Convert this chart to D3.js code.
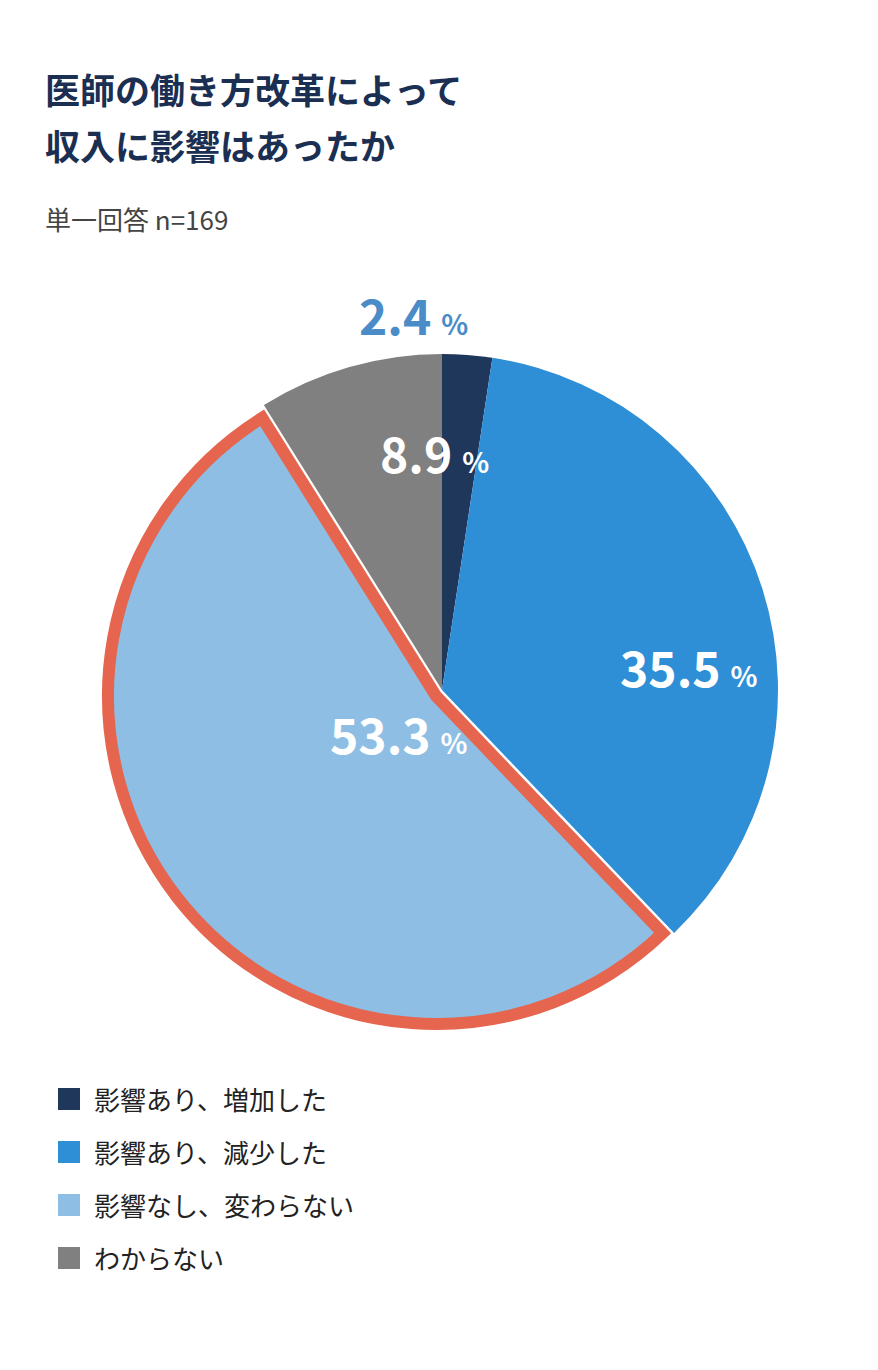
<!DOCTYPE html><html><head><meta charset="utf-8"><script src="https://cdn.jsdelivr.net/npm/d3@7"></script>
<style>body{margin:0;background:#fff}text{font-family:"Noto Sans CJK JP",sans-serif}</style></head><body>
<svg id="c" width="878" height="1370"></svg>
<script>
const categories=["影響あり、増加した","影響あり、減少した","影響なし、変わらない","わからない"];
const values=[2.4,35.5,53.3,8.9];
const colors=["#1f375b","#2e8ed6","#8ebee4","#808080"];
const svg=d3.select("#c");
svg.append("text").attr("x",45).attr("y",104).attr("font-size",35).attr("font-weight",700).attr("fill","#1b2f52").text("医師の働き方改革によって");
svg.append("text").attr("x",45).attr("y",160).attr("font-size",35).attr("font-weight",700).attr("fill","#1b2f52").text("収入に影響はあったか");
svg.append("text").attr("x",45).attr("y",230).attr("font-size",26).attr("fill","#444").text("単一回答  n=169");
const cx=442,cy=690,R=336;
const pie=d3.pie().sort(null).value(d=>d)(values);
const arc=d3.arc().innerRadius(0).outerRadius(R);
const g=svg.append("g").attr("transform",`translate(${cx},${cy})`);
pie.forEach((p,i)=>{
  if(i===2){
    g.append("path").attr("transform","translate(-6,6)").attr("d",d3.arc().innerRadius(0).outerRadius(R-8)(p))
     .attr("fill",colors[i]).attr("stroke","#e5654f").attr("stroke-width",12).attr("stroke-linejoin","miter");
  } else g.append("path").attr("d",arc(p)).attr("fill",colors[i]);
});
// re-draw highlighted slice last
const lbl=[[-83,-355,"#4a8cc8"],[178,-3,"#fff"],[-112,64,"#fff"],[-62,-217,"#fff"]];
values.forEach((v,i)=>{
  const t=g.append("text").attr("x",lbl[i][0]).attr("y",lbl[i][1]).attr("fill",lbl[i][2]).attr("font-weight",700);
  t.append("tspan").attr("font-size",48).text(v.toFixed(1));
  t.append("tspan").attr("font-size",28).attr("dx",10).text("%");
});
categories.forEach((c,i)=>{
  const y=1110+i*53;
  svg.append("rect").attr("x",58).attr("y",y-22).attr("width",22).attr("height",22).attr("fill",colors[i]);
  svg.append("text").attr("x",94).attr("y",y).attr("font-size",26).attr("fill","#222").text(c);
});
</script></body></html>
